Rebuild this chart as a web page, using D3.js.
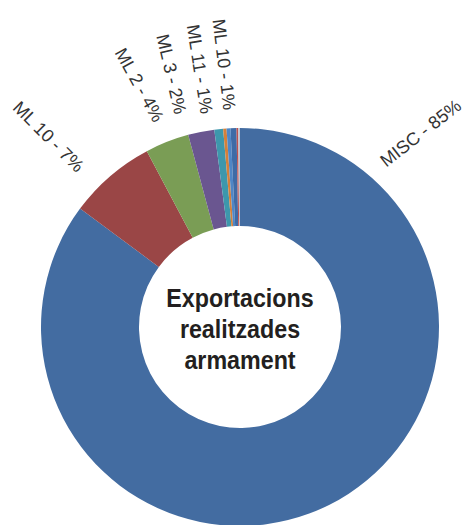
<!DOCTYPE html>
<html>
<head>
<meta charset="utf-8">
<script src="https://cdn.jsdelivr.net/npm/d3@7"></script>
<style>
  html, body { margin: 0; padding: 0; background: #fff; }
  svg { display: block; }
</style>
</head>
<body>
<div id="chart"></div>
<script>
// ---- data ----
const categories = ["MISC", "ML 10", "ML 2", "ML 3", "ML 11", "ML 10b", "s7", "s8", "s9", "s10"];
const values = [85.1, 7.1, 3.56, 2.13, 0.71, 0.27, 0.32, 0.48, 0.14, 0.14];
const labelTexts = ["MISC - 85%", "ML 10 - 7%", "ML 2 - 4%", "ML 3 - 2%", "ML 11 - 1%", "ML 10 - 1%"];
const titleLines = ["Exportacions", "realitzades", "armament"];

// ---- styles / layout ----
const W = 464, H = 525;
const cx = 240, cy = 327, outerR = 199, innerR = 101;
const colors = ["#436ca1", "#9a4646", "#7a9d55", "#6a5690", "#3d97ac", "#d4803a", "#4f86c6", "#3f6ba6", "#c0504d", "#b9c4d4"];

// label placement (annotation layout): angle (deg, clockwise from 12 o'clock), distance from centre, rotation
const labelLayout = [
  { ang: 43.0, dist: 265, rot: -38 },
  { ang: -45.2, dist: 270, rot: 45 },
  { ang: -22.6, dist: 262, rot: 61 },
  { ang: -15.2, dist: 262, rot: 77 },
  { ang: -8.9, dist: 261, rot: 81 },
  { ang: -3.5, dist: 263, rot: 83 }
];

const svg = d3.select("#chart").append("svg")
  .attr("width", W).attr("height", H);

const g = svg.append("g").attr("transform", `translate(${cx},${cy})`);

const pie = d3.pie().sort(null).value(d => d.v);
const arc = d3.arc().innerRadius(innerR).outerRadius(outerR);
const color = d3.scaleOrdinal().domain(categories).range(colors);

const data = categories.map((c, i) => ({ c, v: values[i] }));

g.selectAll("path.slice")
  .data(pie(data))
  .join("path")
  .attr("class", "slice")
  .attr("d", arc)
  .attr("fill", d => color(d.data.c));

// labels
svg.append("g").selectAll("text.lbl")
  .data(labelTexts)
  .join("text")
  .attr("class", "lbl")
  .attr("transform", (t, i) => {
    const L = labelLayout[i];
    const a = L.ang * Math.PI / 180;
    const x = cx + L.dist * Math.sin(a);
    const y = cy - L.dist * Math.cos(a);
    return `translate(${x},${y}) rotate(${L.rot})`;
  })
  .attr("text-anchor", "middle")
  .attr("dominant-baseline", "central")
  .attr("font-family", "'Liberation Sans', Arial, sans-serif")
  .attr("font-size", 18)
  .attr("fill", "#333")
  .text(t => t);

// centre title
const tg = svg.append("g").attr("transform", `translate(${cx},${cy}) scale(0.895,1)`);
tg.selectAll("text")
  .data(titleLines)
  .join("text")
  .attr("x", 0)
  .attr("y", (d, i) => (i - 1) * 31.5 + 11)
  .attr("text-anchor", "middle")
  .attr("font-family", "'Liberation Sans', Arial, sans-serif")
  .attr("font-weight", "bold")
  .attr("font-size", 26)
  .attr("fill", "#231f20")
  .text(d => d);
</script>
</body>
</html>
